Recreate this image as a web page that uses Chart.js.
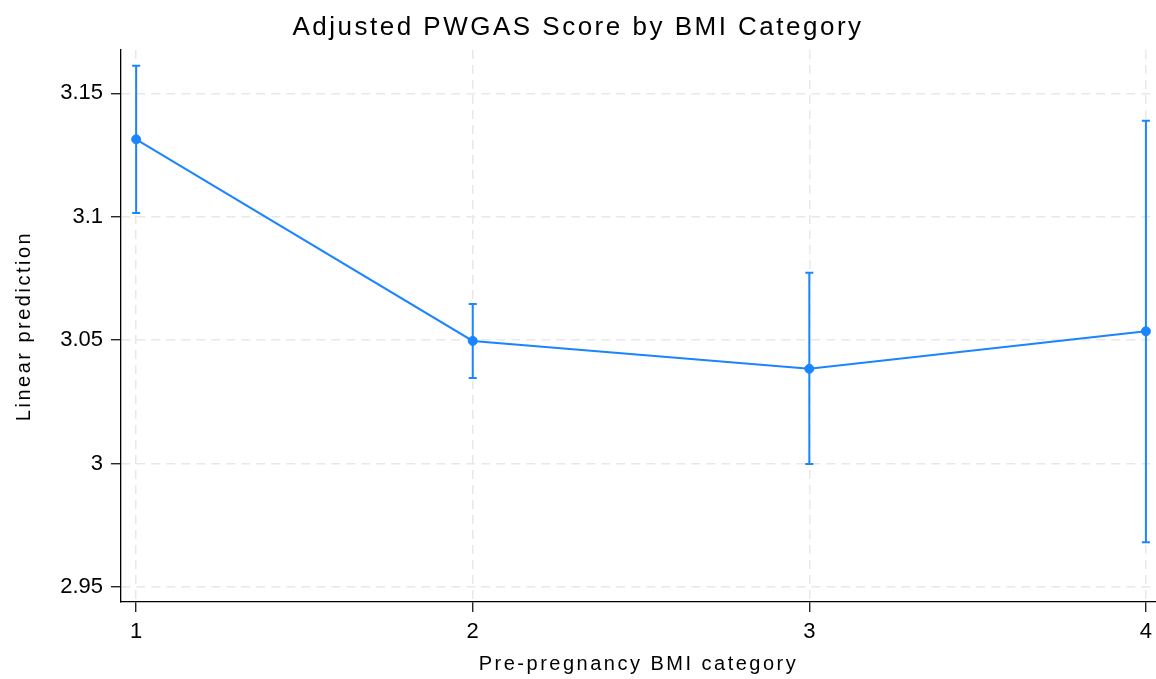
<!DOCTYPE html>
<html>
<head>
<meta charset="utf-8">
<script src="https://cdn.jsdelivr.net/npm/chart.js@4.4.1/dist/chart.umd.min.js"></script>
<style>
  body { margin: 0; background: #fff; }
  #wrap { width: 1156px; height: 679px; }
</style>
</head>
<body>
<div id="wrap"><canvas id="marginsChart"></canvas></div>
<script>
// BMI categories and adjusted predictions (margins) with 95% CI
const categories = [1, 2, 3, 4];
const predicted = [3.1314, 3.0497, 3.0384, 3.0536];
const ciLower = [3.1015, 3.0347, 2.9998, 2.9681];
const ciUpper = [3.1612, 3.0647, 3.0773, 3.1389];

const xTicks = [1, 2, 3, 4];
const yTicks = [2.95, 3, 3.05, 3.1, 3.15];
const yTickLabels = ["2.95", "3", "3.05", "3.1", "3.15"];

const BLUE = "#1a85ff";
const FONT = "'Liberation Sans', Arial, Helvetica, sans-serif";

// draws the CI spikes with caps, using the chart scales
const errorBars = {
  id: "errorBars",
  beforeDraw(chart) {
    // titles in the stata export are set wider than canvas text
    chart.ctx.letterSpacing = "2.5px";
  },
  beforeDatasetsDraw(chart) {
    const { ctx, scales } = chart;
    const x = scales.x;
    const y = scales.y;
    ctx.save();
    ctx.strokeStyle = BLUE;
    ctx.lineWidth = 2;
    for (let i = 0; i < categories.length; i++) {
      const px = x.getPixelForValue(categories[i]);
      const top = y.getPixelForValue(ciUpper[i]);
      const bot = y.getPixelForValue(ciLower[i]);
      ctx.beginPath();
      ctx.moveTo(px, top);
      ctx.lineTo(px, bot);
      ctx.moveTo(px - 4, top);
      ctx.lineTo(px + 4, top);
      ctx.moveTo(px - 4, bot);
      ctx.lineTo(px + 4, bot);
      ctx.stroke();
    }
    ctx.restore();
  },
  afterDatasetsDraw(chart) {
    // tick labels (z: 1) are drawn after this, with normal spacing
    chart.ctx.letterSpacing = "0px";
  },
};

const ctx = document.getElementById("marginsChart").getContext("2d");

new Chart(ctx, {
  type: "line",
  data: {
    datasets: [
      {
        label: "Linear prediction",
        data: categories.map((c, i) => ({ x: c, y: predicted[i] })),
        borderColor: BLUE,
        backgroundColor: BLUE,
        borderWidth: 2,
        tension: 0,
        pointRadius: 4.5,
        pointBorderWidth: 1,
        pointBackgroundColor: BLUE,
      },
    ],
  },
  options: {
    responsive: true,
    maintainAspectRatio: false,
    animation: false,
    layout: { padding: 0, autoPadding: false },
    plugins: {
      legend: { display: false },
      tooltip: { enabled: false },
      title: {
        display: true,
        text: "Adjusted PWGAS Score by BMI Category",
        color: "#000",
        font: { family: FONT, size: 26, weight: "normal" },
        padding: { top: 12, bottom: 6.8 },
      },
    },
    scales: {
      x: {
        type: "linear",
        min: 0.955,
        max: 4.03,
        afterBuildTicks: (scale) => {
          scale.ticks = xTicks.map((v) => ({ value: v }));
        },
        afterFit: (scale) => {
          scale.height = 77;
          scale.paddingLeft = 0;
          scale.paddingRight = 0;
        },
        grid: {
          color: "#e8e8e8",
          lineWidth: 1.5,
          tickColor: "#000",
          tickWidth: 1.2,
          tickLength: 10,
        },
        border: { display: true, color: "#000", width: 1.3, dash: [9, 6] },
        ticks: {
          z: 1,
          color: "#000",
          padding: 7,
          font: { family: FONT, size: 22 },
          callback: (v) => String(v),
        },
        title: {
          display: true,
          text: "Pre-pregnancy BMI category",
          color: "#000",
          font: { family: FONT, size: 20 },
          padding: { top: 0, bottom: 3 },
        },
      },
      y: {
        type: "linear",
        min: 2.9439,
        max: 3.1676,
        afterBuildTicks: (scale) => {
          scale.ticks = yTicks.map((v) => ({ value: v }));
        },
        afterFit: (scale) => {
          scale.width = 121;
        },
        grid: {
          color: "#e8e8e8",
          lineWidth: 1.5,
          tickColor: "#000",
          tickWidth: 1.2,
          tickLength: 10,
        },
        border: { display: true, color: "#000", width: 1.3, dash: [9, 6] },
        ticks: {
          z: 1,
          color: "#000",
          padding: 8,
          font: { family: FONT, size: 22 },
          callback: (v, i) => yTickLabels[i],
        },
        title: {
          display: true,
          text: "Linear prediction",
          color: "#000",
          font: { family: FONT, size: 20 },
          padding: { top: 12, bottom: 0 },
        },
      },
    },
  },
  plugins: [errorBars],
});
</script>
</body>
</html>
